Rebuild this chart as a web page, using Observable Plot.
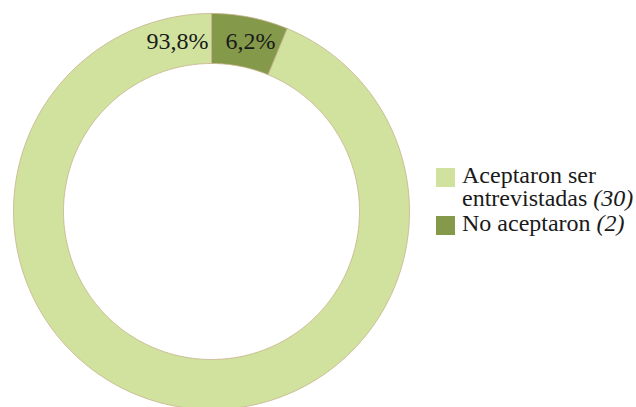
<!DOCTYPE html>
<html>
<head>
<meta charset="utf-8">
<script src="https://cdn.jsdelivr.net/npm/d3@7"></script>
<script src="https://cdn.jsdelivr.net/npm/@observablehq/plot@0.6"></script>
<style>
  html, body { margin: 0; padding: 0; background: #ffffff; }
  #wrap { position: relative; width: 636px; height: 407px; overflow: hidden; font-family: "Liberation Serif", serif; }
  #wrap svg { position: absolute; left: 0; top: 0; }
  #legend { position: absolute; left: 436px; top: 164.4px; font-family: "Liberation Serif", serif; font-size: 24px; color: #1a1a1a; line-height: 23px; }
  .item { display: flex; align-items: flex-start; }
  .sw { width: 19px; height: 19px; margin-right: 7px; margin-top: 3.5px; flex: none; }
  .item + .item { margin-top: 2px; }
  .ln { height: 23px; white-space: nowrap; }
</style>
</head>
<body>
<div id="wrap"><div id="legend"></div></div>
<script>
// ---- data ----
const categories = ["Aceptaron ser entrevistadas", "No aceptaron"];
const counts = [30, 2];
const percentLabels = ["93,8%", "6,2%"];
const legendLines = [["Aceptaron ser", "entrevistadas"], ["No aceptaron"]];
const colors = ["#d0e29e", "#84994a"];

// ---- geometry from data ----
const innerRatio = 148 / 198;
const order = [1, 0]; // dark slice starts at 12 o'clock, clockwise
const arcs = d3.pie().sort(null).value(i => counts[i])(order);
const points = [];
for (const a of arcs) {
  const key = categories[a.data];
  const n = Math.max(2, Math.ceil((a.endAngle - a.startAngle) / (Math.PI / 360)));
  const outer = [], inner = [];
  for (let k = 0; k <= n; k++) {
    const t = a.startAngle + (a.endAngle - a.startAngle) * k / n;
    outer.push({key, x: Math.sin(t), y: Math.cos(t)});
    inner.push({key, x: Math.sin(t) * innerRatio, y: Math.cos(t) * innerRatio});
  }
  const ring = outer.concat(inner.reverse());
  ring.push(ring[0]);
  points.push(...ring);
}
const midR = (1 + innerRatio) / 2;
const labels = categories.map((c, i) => ({key: c, text: percentLabels[i], x: 0, y: midR}));

const chart = Plot.plot({
  width: 636,
  height: 407,
  margin: 0,
  x: {domain: [-1, 1], range: [13, 409], axis: null},
  y: {domain: [-1, 1], range: [409, 13], axis: null},
  color: {domain: categories, range: colors},
  style: {background: "transparent", fontFamily: "'Liberation Serif', serif"},
  marks: [
    Plot.line(points, {x: "x", y: "y", z: "key", fill: "key", stroke: "#c6b08a", strokeWidth: 0.8, curve: "linear"}),
    Plot.text(labels.filter(d => d.key === categories[0]), {x: "x", y: "y", text: "text", textAnchor: "end", lineAnchor: "bottom", dx: -3, dy: 10, fontSize: 24, fontFamily: "'Liberation Serif', serif", fill: "#1a1a1a"}),
    Plot.text(labels.filter(d => d.key === categories[1]), {x: "x", y: "y", text: "text", textAnchor: "start", lineAnchor: "bottom", dx: 14, dy: 10, fontSize: 24, fontFamily: "'Liberation Serif', serif", fill: "#1a1a1a"})
  ]
});
document.getElementById("wrap").prepend(chart);

// ---- legend ----
const legend = document.getElementById("legend");
categories.forEach((c, i) => {
  const item = document.createElement("div");
  item.className = "item";
  const sw = document.createElement("div");
  sw.className = "sw";
  sw.style.background = colors[i];
  const txt = document.createElement("div");
  const lines = legendLines[i];
  lines.forEach((l, j) => {
    const ln = document.createElement("div");
    ln.className = "ln";
    ln.innerHTML = j === lines.length - 1 ? `${l} <i>(${counts[i]})</i>` : l;
    txt.append(ln);
  });
  item.append(sw, txt);
  legend.append(item);
});
</script>
</body>
</html>
